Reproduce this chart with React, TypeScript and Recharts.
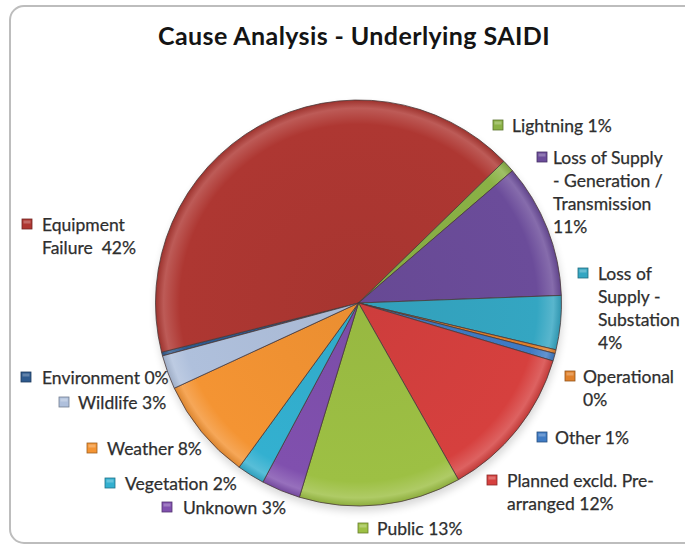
import React from "react";
import { PieChart, Pie, Cell } from "recharts";

const causes = [
  "Environment",
  "Equipment Failure",
  "Lightning",
  "Loss of Supply - Generation / Transmission",
  "Loss of Supply - Substation",
  "Operational",
  "Other",
  "Planned excld. Pre-arranged",
  "Public",
  "Unknown",
  "Vegetation",
  "Weather",
  "Wildlife",
];

// share of underlying SAIDI, %
const shares = [0.3, 41.6, 1.0, 10.7, 4.3, 0.3, 0.6, 12.2, 12.9, 3.1, 2.2, 8.1, 2.7];

// label text as Excel wrapped it, {p} = rounded percent
const labelLines = [
  ["Environment {p}"],
  ["Equipment", "Failure  {p}"],
  ["Lightning {p}"],
  ["Loss of Supply", "- Generation /", "Transmission", "{p}"],
  ["Loss of", "Supply -", "Substation", "{p}"],
  ["Operational", "{p}"],
  ["Other {p}"],
  ["Planned excld. Pre-", "arranged {p}"],
  ["Public {p}"],
  ["Unknown {p}"],
  ["Vegetation {p}"],
  ["Weather {p}"],
  ["Wildlife {p}"],
];

const sliceColors = [
  "#2e5a8e", "#ae3732", "#8ab145", "#6b4c9a", "#34a6c2", "#e0802a", "#3f7bc4",
  "#d6403e", "#9dc044", "#8050ae", "#33b0d0", "#f49433", "#afc0dc",
];

// where Excel parked each data label: marker left, text left, first line centre
const labelSpots = [
  { mx: 21, tx: 42, y: 377 },
  { mx: 22, tx: 42, y: 224 },
  { mx: 493, tx: 512, y: 125 },
  { mx: 537, tx: 553, y: 157 },
  { mx: 578, tx: 598, y: 273 },
  { mx: 565, tx: 583, y: 376 },
  { mx: 537, tx: 555, y: 437 },
  { mx: 487, tx: 507, y: 480 },
  { mx: 358, tx: 377, y: 528 },
  { mx: 162, tx: 183, y: 507 },
  { mx: 105, tx: 125, y: 483 },
  { mx: 87, tx: 107, y: 448 },
  { mx: 59, tx: 78, y: 402 },
];

const data = causes.map((name, i) => ({ name, value: shares[i] }));

const W = 685;
const H = 554;
const CX = 358.5;
const CY = 303;
const R = 203;
const START = 195.1;
const FONT = "Lato, 'Open Sans', sans-serif";
const LINE_H = 23;

function lighten(hex: string, amt: number) {
  const n = parseInt(hex.slice(1), 16);
  const ch = [(n >> 16) & 255, (n >> 8) & 255, n & 255].map((c) =>
    Math.round(amt > 0 ? c + (255 - c) * amt : c * (1 + amt))
  );
  return `rgb(${ch.join(",")})`;
}

const renderLabel = (props: any) => {
  const i = props.index;
  const spot = labelSpots[i];
  const pct = `${Math.round(shares[i])}%`;
  const color = sliceColors[i];
  return (
    <g key={`lbl-${i}`}>
      <rect
        x={spot.mx}
        y={spot.y - 5}
        width={10}
        height={10}
        fill={color}
        stroke={lighten(color, -0.35)}
        strokeWidth={0.8}
      />
      <rect x={spot.mx + 1.5} y={spot.y - 3.5} width={7} height={3} fill="#fff" opacity={0.25} />
      {labelLines[i].map((line, k) => (
        <text
          key={k}
          x={spot.tx}
          y={spot.y + k * LINE_H}
          dominantBaseline="central"
          fontFamily={FONT}
          fontSize={17.5}
          fill="#2e2e2e"
          stroke="#2e2e2e"
          strokeWidth={0.25}
          style={{ whiteSpace: "pre" }}
        >
          {line.replace("{p}", pct)}
        </text>
      ))}
    </g>
  );
};

export default function App() {
  return (
    <div style={{ position: "absolute", left: 0, top: 0, width: W, height: H, background: "#fff" }}>
      <svg width={W} height={H} style={{ position: "absolute", left: 0, top: 0 }}>
        <defs>
          {sliceColors.map((c, i) => (
            <radialGradient
              key={i}
              id={`slice-${i}`}
              gradientUnits="userSpaceOnUse"
              cx={CX}
              cy={CY}
              r={R}
            >
              <stop offset="0%" stopColor={lighten(c, -0.04)} />
              <stop offset="88%" stopColor={c} />
              <stop offset="96%" stopColor={lighten(c, 0.18)} />
              <stop offset="100%" stopColor={lighten(c, -0.1)} />
            </radialGradient>
          ))}
          <filter id="pieShadow" x="-10%" y="-10%" width="120%" height="125%">
            <feGaussianBlur stdDeviation="4" />
          </filter>
        </defs>
        <rect x={10} y={6} width={720} height={537} rx={14} fill="#fff" stroke="#bdbdbd" strokeWidth={2} />
        <circle cx={CX + 1} cy={CY + 5} r={R} fill="#000" opacity={0.16} filter="url(#pieShadow)" />
        <text
          x={354}
          y={35}
          textAnchor="middle"
          dominantBaseline="central"
          fontFamily={FONT}
          fontWeight={700}
          fontSize={25}
          letterSpacing={0.4}
          fill="#141414"
        >
          Cause Analysis - Underlying SAIDI
        </text>
      </svg>
      <div style={{ position: "absolute", left: 0, top: 0 }}>
        <PieChart width={W} height={H} margin={{ top: 0, right: 0, bottom: 0, left: 0 }}>
          <Pie
            data={data}
            dataKey="value"
            nameKey="name"
            cx={CX}
            cy={CY}
            outerRadius={R}
            startAngle={START}
            endAngle={START - 360}
            stroke="#4a3a3a"
            strokeWidth={0.8}
            label={renderLabel}
            labelLine={false}
            isAnimationActive={false}
          >
            {data.map((d, i) => (
              <Cell key={d.name} fill={`url(#slice-${i})`} />
            ))}
          </Pie>
        </PieChart>
      </div>
    </div>
  );
}
